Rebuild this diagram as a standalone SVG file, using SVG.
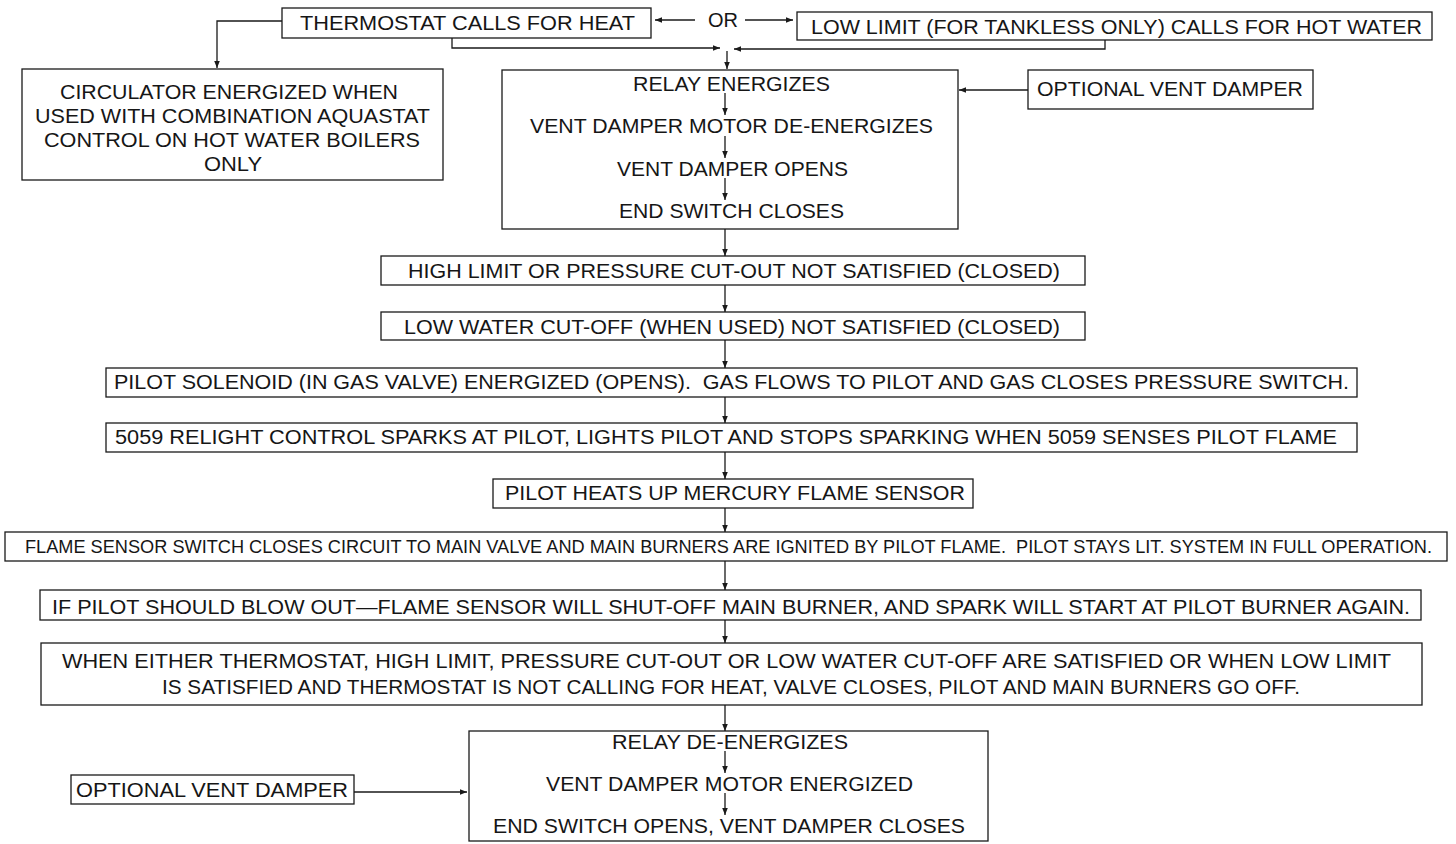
<svg xmlns="http://www.w3.org/2000/svg" width="1456" height="844" viewBox="0 0 1456 844">
<style>
.box{fill:#fff;stroke:#1a1a1a;stroke-width:1.3}
.t{font-family:"Liberation Sans",Arial,sans-serif;font-size:19.5px;fill:#161616;text-anchor:start}
.c{fill:none;stroke:#1a1a1a;stroke-width:1.3}
</style>
<defs>
<marker id="ah" viewBox="0 0 10 10" refX="10" refY="5" markerWidth="7" markerHeight="7" markerUnits="userSpaceOnUse" orient="auto">
<path d="M0,1 L10,5 L0,9 Z" fill="#1a1a1a"/>
</marker>
</defs>
<rect width="1456" height="844" fill="#fff"/>

<g id="thermostat">
<rect class="box" x="282" y="8" width="369" height="30"/>
<text class="t" x="300" y="30" textLength="335" lengthAdjust="spacingAndGlyphs">THERMOSTAT CALLS FOR HEAT</text>
</g>

<g id="lowlimit">
<rect class="box" x="797" y="12" width="635" height="28"/>
<text class="t" x="811" y="34" textLength="611" lengthAdjust="spacingAndGlyphs">LOW LIMIT (FOR TANKLESS ONLY) CALLS FOR HOT WATER</text>
</g>

<g id="circulator">
<rect class="box" x="22" y="69" width="421" height="111"/>
<text class="t" x="60" y="99" textLength="338" lengthAdjust="spacingAndGlyphs">CIRCULATOR ENERGIZED WHEN</text>
<text class="t" x="35" y="123" textLength="395" lengthAdjust="spacingAndGlyphs">USED WITH COMBINATION AQUASTAT</text>
<text class="t" x="44" y="147" textLength="376" lengthAdjust="spacingAndGlyphs">CONTROL ON HOT WATER BOILERS</text>
<text class="t" x="204" y="171" textLength="58" lengthAdjust="spacingAndGlyphs">ONLY</text>
</g>

<g id="relay">
<rect class="box" x="502" y="70" width="456" height="159"/>
<text class="t" x="633" y="91" textLength="197" lengthAdjust="spacingAndGlyphs">RELAY ENERGIZES</text>
<text class="t" x="530" y="133" textLength="403" lengthAdjust="spacingAndGlyphs">VENT DAMPER MOTOR DE-ENERGIZES</text>
<text class="t" x="617" y="176" textLength="231" lengthAdjust="spacingAndGlyphs">VENT DAMPER OPENS</text>
<text class="t" x="619" y="218" textLength="225" lengthAdjust="spacingAndGlyphs">END SWITCH CLOSES</text>
</g>

<g id="optional-top">
<rect class="box" x="1028" y="70" width="285" height="39"/>
<text class="t" x="1037" y="96" textLength="266" lengthAdjust="spacingAndGlyphs">OPTIONAL VENT DAMPER</text>
</g>

<g id="highlimit">
<rect class="box" x="381" y="256" width="704" height="29"/>
<text class="t" x="408" y="278" textLength="652" lengthAdjust="spacingAndGlyphs">HIGH LIMIT OR PRESSURE CUT-OUT NOT SATISFIED (CLOSED)</text>
</g>

<g id="lowwater">
<rect class="box" x="381" y="312" width="704" height="28"/>
<text class="t" x="404" y="334" textLength="656" lengthAdjust="spacingAndGlyphs">LOW WATER CUT-OFF (WHEN USED) NOT SATISFIED (CLOSED)</text>
</g>

<g id="pilotsolenoid">
<rect class="box" x="106" y="368" width="1251" height="29"/>
<text class="t" x="114" y="389" textLength="1235" lengthAdjust="spacingAndGlyphs" xml:space="preserve">PILOT SOLENOID (IN GAS VALVE) ENERGIZED (OPENS).  GAS FLOWS TO PILOT AND GAS CLOSES PRESSURE SWITCH.</text>
</g>

<g id="relight">
<rect class="box" x="106" y="423" width="1251" height="29"/>
<text class="t" x="115" y="444" textLength="1222" lengthAdjust="spacingAndGlyphs">5059 RELIGHT CONTROL SPARKS AT PILOT, LIGHTS PILOT AND STOPS SPARKING WHEN 5059 SENSES PILOT FLAME</text>
</g>

<g id="pilotheats">
<rect class="box" x="493" y="479" width="480" height="29"/>
<text class="t" x="505" y="500" textLength="460" lengthAdjust="spacingAndGlyphs">PILOT HEATS UP MERCURY FLAME SENSOR</text>
</g>

<g id="flamesensor">
<rect class="box" x="5" y="532" width="1442" height="29"/>
<text class="t" x="25" y="553" style="font-size:18px" textLength="1407" lengthAdjust="spacingAndGlyphs" xml:space="preserve">FLAME SENSOR SWITCH CLOSES CIRCUIT TO MAIN VALVE AND MAIN BURNERS ARE IGNITED BY PILOT FLAME.  PILOT STAYS LIT. SYSTEM IN FULL OPERATION.</text>
</g>

<g id="blowout">
<rect class="box" x="40" y="590" width="1381" height="30"/>
<text class="t" x="52" y="614" textLength="1358" lengthAdjust="spacingAndGlyphs">IF PILOT SHOULD BLOW OUT—FLAME SENSOR WILL SHUT-OFF MAIN BURNER, AND SPARK WILL START AT PILOT BURNER AGAIN.</text>
</g>

<g id="wheneither">
<rect class="box" x="41" y="643" width="1381" height="62"/>
<text class="t" x="62" y="668" textLength="1329" lengthAdjust="spacingAndGlyphs">WHEN EITHER THERMOSTAT, HIGH LIMIT, PRESSURE CUT-OUT OR LOW WATER CUT-OFF ARE SATISFIED OR WHEN LOW LIMIT</text>
<text class="t" x="162" y="694" textLength="1138" lengthAdjust="spacingAndGlyphs">IS SATISFIED AND THERMOSTAT IS NOT CALLING FOR HEAT, VALVE CLOSES, PILOT AND MAIN BURNERS GO OFF.</text>
</g>

<g id="relayde">
<rect class="box" x="469" y="731" width="519" height="110"/>
<text class="t" x="612" y="749" textLength="236" lengthAdjust="spacingAndGlyphs">RELAY DE-ENERGIZES</text>
<text class="t" x="546" y="791" textLength="367" lengthAdjust="spacingAndGlyphs">VENT DAMPER MOTOR ENERGIZED</text>
<text class="t" x="493" y="833" textLength="472" lengthAdjust="spacingAndGlyphs">END SWITCH OPENS, VENT DAMPER CLOSES</text>
</g>

<g id="optional-bottom">
<rect class="box" x="71" y="775" width="283" height="29"/>
<text class="t" x="76" y="797" textLength="272" lengthAdjust="spacingAndGlyphs">OPTIONAL VENT DAMPER</text>
</g>

<g id="connectors">
<path class="c" d="M282,21 H217 V68" marker-end="url(#ah)"/>
<path class="c" d="M695,20 H655" marker-end="url(#ah)"/>
<path class="c" d="M745,20 H793" marker-end="url(#ah)"/>
<text class="t" x="708" y="27" textLength="30" lengthAdjust="spacingAndGlyphs">OR</text>
<path class="c" d="M452,38 V48 H720" marker-end="url(#ah)"/>
<path class="c" d="M1105,40 V49 H734" marker-end="url(#ah)"/>
<path class="c" d="M727,51 V69" marker-end="url(#ah)"/>
<path class="c" d="M1028,90 H959" marker-end="url(#ah)"/>
<path class="c" d="M725,93 V115" marker-end="url(#ah)"/>
<path class="c" d="M725,136 V158" marker-end="url(#ah)"/>
<path class="c" d="M725,178 V200" marker-end="url(#ah)"/>
<path class="c" d="M725,229 V256" marker-end="url(#ah)"/>
<path class="c" d="M725,285 V312" marker-end="url(#ah)"/>
<path class="c" d="M725,340 V368" marker-end="url(#ah)"/>
<path class="c" d="M725,397 V423" marker-end="url(#ah)"/>
<path class="c" d="M725,452 V479" marker-end="url(#ah)"/>
<path class="c" d="M725,508 V532" marker-end="url(#ah)"/>
<path class="c" d="M725,561 V590" marker-end="url(#ah)"/>
<path class="c" d="M725,620 V643" marker-end="url(#ah)"/>
<path class="c" d="M725,705 V731" marker-end="url(#ah)"/>
<path class="c" d="M725,751 V773" marker-end="url(#ah)"/>
<path class="c" d="M725,793 V815" marker-end="url(#ah)"/>
<path class="c" d="M354,792 H467" marker-end="url(#ah)"/>
</g>
</svg>
